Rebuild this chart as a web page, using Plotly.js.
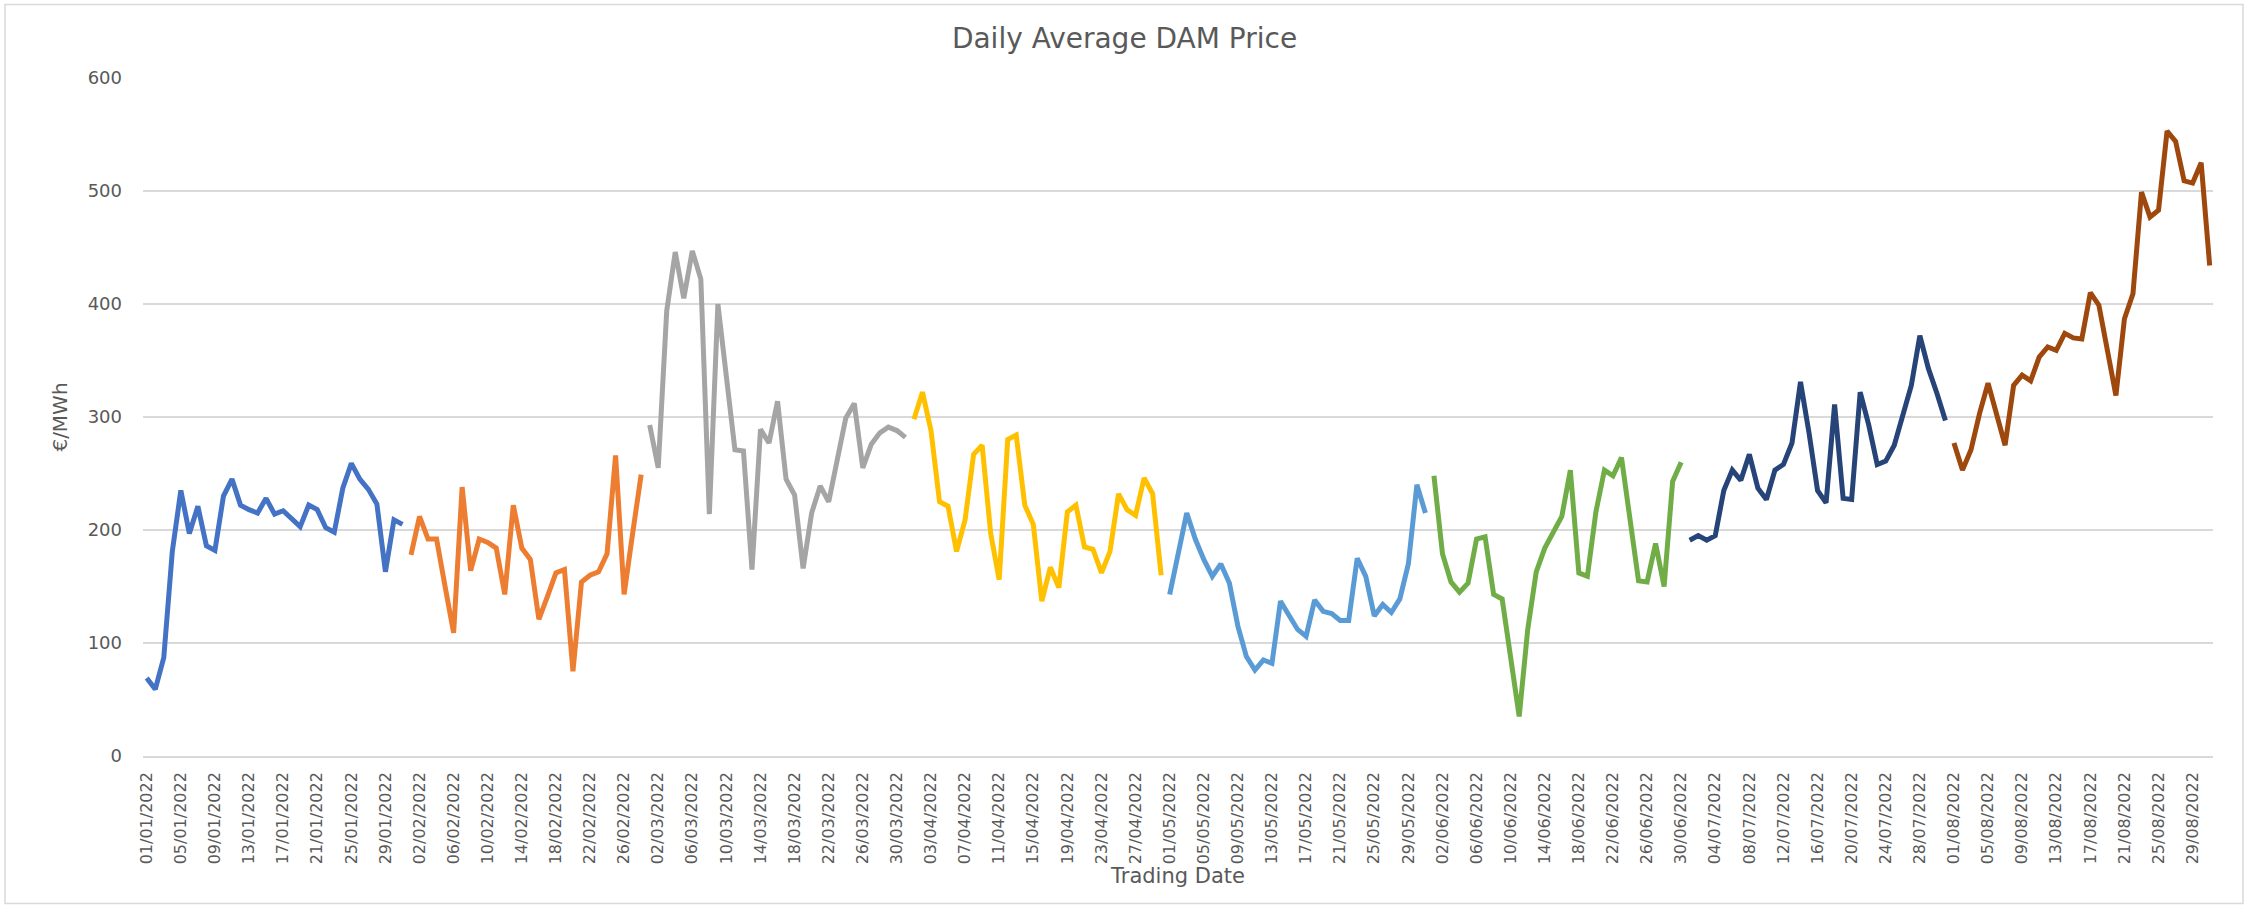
<!DOCTYPE html>
<html>
<head>
<meta charset="utf-8">
<script src="https://cdn.plot.ly/plotly-3.0.1.min.js"></script>
<style>
  html, body { margin: 0; padding: 0; background: #ffffff; }
  #chart { width: 2249px; height: 908px; }
</style>
</head>
<body>
<div id="chart"></div>
<script>
// Daily Average DAM Price (EUR/MWh), one series per month of 2022
const monthNames = ["Jan", "Feb", "Mar", "Apr", "May", "Jun", "Jul", "Aug"];
const monthColors = ["#4472C4", "#ED7D31", "#A5A5A5", "#FFC000", "#5B9BD5", "#70AD47", "#264478", "#9E480E"];

const jan = [69, 59, 87, 181, 235, 197, 221, 186, 182, 230, 245, 222, 218, 215, 228, 214, 217, 210, 203, 222, 218, 202, 198, 237, 259, 245, 236, 223, 163, 209, 205];
const feb = [178, 212, 192, 192, 150, 109, 238, 164, 192, 189, 184, 143, 222, 184, 174, 121, 141, 162, 165, 75, 154, 160, 163, 179, 266, 143, 197, 249];
const mar = [293, 255, 394, 446, 405, 447, 422, 214, 400, 335, 271, 270, 165, 289, 277, 314, 245, 231, 166, 215, 239, 225, 262, 299, 312, 255, 276, 286, 291, 288, 282];
const apr = [298, 322, 288, 225, 221, 181, 209, 267, 275, 197, 156, 280, 284, 222, 205, 137, 167, 149, 216, 222, 185, 183, 162, 181, 232, 218, 213, 246, 232, 160];
const may = [143, 180, 215, 192, 174, 159, 170, 153, 115, 88, 76, 85, 82, 137, 124, 112, 106, 138, 128, 126, 120, 120, 175, 159, 124, 134, 127, 139, 170, 240, 215];
const jun = [248, 179, 154, 145, 153, 192, 194, 143, 139, 88, 35, 112, 163, 184, 197, 212, 253, 162, 159, 216, 253, 248, 264, 207, 155, 154, 188, 150, 243, 260];
const jul = [191, 195, 191, 195, 235, 253, 244, 267, 237, 227, 253, 258, 277, 331, 286, 235, 224, 311, 228, 227, 322, 293, 258, 261, 275, 303, 328, 372, 343, 321, 297];
const aug = [277, 253, 271, 303, 330, 303, 275, 328, 337, 332, 353, 362, 359, 374, 370, 369, 410, 399, 359, 319, 387, 409, 499, 477, 483, 553, 544, 509, 507, 525, 434];

const monthValues = [jan, feb, mar, apr, may, jun, jul, aug];

function monthDates(monthIndex, count) {
  const mm = String(monthIndex + 1).padStart(2, "0");
  const out = [];
  for (let d = 1; d <= count; d++) {
    out.push("2022-" + mm + "-" + String(d).padStart(2, "0"));
  }
  return out;
}

const traces = monthValues.map(function (vals, i) {
  return {
    type: "scatter",
    mode: "lines",
    name: monthNames[i],
    x: monthDates(i, vals.length),
    y: vals,
    line: { color: monthColors[i], width: 5 },
    hoverinfo: "x+y"
  };
});

const FONT = "DejaVu Sans, Arial, sans-serif";
const TXT = "#595959";

const layout = {
  width: 2249,
  height: 908,
  paper_bgcolor: "#ffffff",
  plot_bgcolor: "#ffffff",
  showlegend: false,
  margin: { l: 143, r: 36, t: 78, b: 152, pad: 0 },
  title: {
    text: "Daily Average DAM Price",
    font: { family: FONT, size: 28, color: TXT },
    x: 0.5, xref: "container", xanchor: "center",
    y: 1 - 38 / 908, yref: "container", yanchor: "middle"
  },
  xaxis: {
    type: "date",
    range: ["2021-12-31 13:30", "2022-08-31 09:20"],
    tick0: "2022-01-01",
    dtick: 4 * 86400000,
    tickformat: "%d/%m/%Y",
    tickangle: -90,
    ticks: "",
    ticklabelstandoff: 8,
    tickfont: { family: FONT, size: 16, color: TXT },
    showgrid: false,
    showline: true,
    linecolor: "#d9d9d9",
    linewidth: 1.5,
    zeroline: false,
    title: {
      text: "Trading Date",
      font: { family: FONT, size: 21, color: TXT },
      standoff: 2
    }
  },
  yaxis: {
    range: [0, 600],
    dtick: 100,
    tick0: 0,
    ticks: "",
    ticklabelstandoff: 20,
    tickfont: { family: FONT, size: 18, color: TXT },
    showgrid: true,
    gridcolor: "#d9d9d9",
    gridwidth: 1.5,
    zeroline: false,
    showline: false,
    title: {
      text: "€/MWh",
      font: { family: FONT, size: 20, color: TXT },
      standoff: 14
    }
  },
  shapes: [{
    type: "rect",
    xref: "paper", yref: "paper",
    x0: (5 - 143) / 2070, x1: (2243 - 143) / 2070,
    y0: (756.3 - 904) / 678.7, y1: (756.3 - 4) / 678.7,
    line: { color: "#d9d9d9", width: 1.5 },
    fillcolor: "rgba(0,0,0,0)",
    layer: "below"
  }]
};

Plotly.newPlot("chart", traces, layout, { displayModeBar: false, responsive: false });
</script>
</body>
</html>
